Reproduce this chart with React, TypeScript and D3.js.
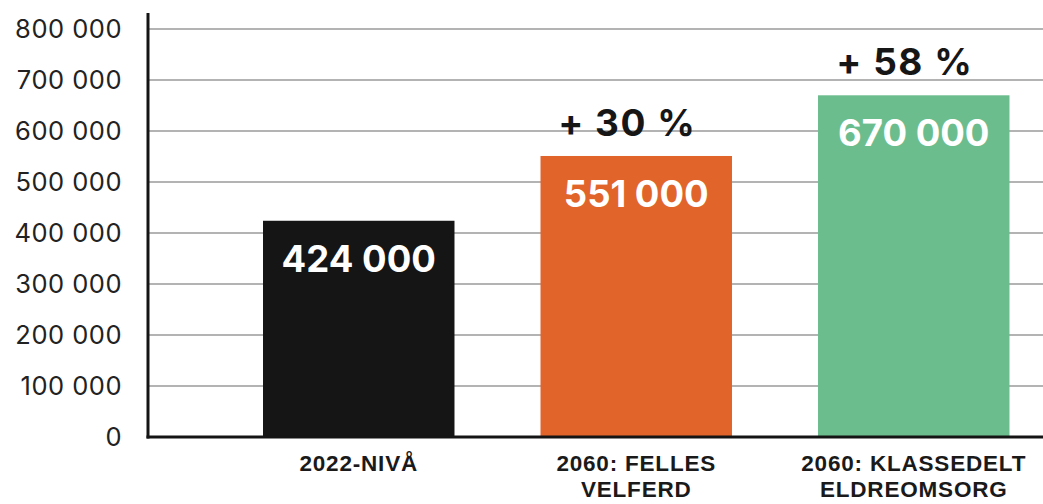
import { useEffect, useRef } from 'react';
import * as d3 from 'd3';

// chart values
const categories = ['2022-NIVÅ', '2060: FELLES|VELFERD', '2060: KLASSEDELT|ELDREOMSORG'];
const values = [424000, 551000, 670000];
const valueLabels = ['424 000', '551 000', '670 000'];
const changeLabels = ['', '+ 30 %', '+ 58 %'];
const barColors = ['#151515', '#e1642b', '#6cbd8e'];
const yTicks = [0, 100000, 200000, 300000, 400000, 500000, 600000, 700000, 800000];

export default function App() {
  const ref = useRef<SVGSVGElement | null>(null);
  const width = 1043;
  const height = 504;

  useEffect(() => {
    const svg = d3.select(ref.current);
    svg.selectAll('*').remove();

    const axisX = 148;
    const y = d3.scaleLinear().domain([0, 800000]).range([437, 29]);
    const x = d3.scaleBand<number>()
      .domain(d3.range(values.length))
      .range([220, 1052.5])
      .paddingInner(0.31)
      .paddingOuter(0.155);

    const tickFmt = (v: number) => d3.format(',')(v).replace(/,/g, ' ');

    // gridlines
    svg.append('g')
      .selectAll('line')
      .data(yTicks.filter(d => d > 0))
      .join('line')
      .attr('x1', axisX)
      .attr('x2', width)
      .attr('y1', d => y(d))
      .attr('y2', d => y(d))
      .attr('stroke', '#9a9a9a')
      .attr('stroke-width', 1.5);

    // tick labels
    svg.append('g')
      .selectAll('text')
      .data(yTicks)
      .join('text')
      .attr('x', 122)
      .attr('y', d => y(d))
      .attr('dy', '0.36em')
      .attr('text-anchor', 'end')
      .attr('font-family', 'Inter, "Liberation Sans", sans-serif')
      .attr('font-size', 25.5)
      .attr('letter-spacing', 0.5)
      .attr('fill', '#222')
      .text(d => tickFmt(d));

    // bars
    svg.append('g')
      .selectAll('rect')
      .data(values)
      .join('rect')
      .attr('x', (_, i) => x(i)!)
      .attr('width', x.bandwidth())
      .attr('y', d => y(d))
      .attr('height', d => y(0) - y(d))
      .attr('fill', (_, i) => barColors[i]);

    // value labels inside bars
    svg.append('g')
      .selectAll('text')
      .data(values)
      .join('text')
      .attr('x', (_, i) => x(i)! + x.bandwidth() / 2)
      .attr('y', d => y(d) + 51)
      .attr('text-anchor', 'middle')
      .attr('font-family', 'Inter, "Liberation Sans", sans-serif')
      .attr('font-weight', 700)
      .attr('font-size', 36.5)
      .attr('fill', '#fff')
      .text((_, i) => valueLabels[i]);

    // change labels above bars
    svg.append('g')
      .selectAll('text')
      .data(values)
      .join('text')
      .attr('x', (_, i) => x(i)! + x.bandwidth() / 2 - 9)
      .attr('y', d => y(d) - 20)
      .attr('text-anchor', 'middle')
      .attr('font-family', 'Inter, "Liberation Sans", sans-serif')
      .attr('font-weight', 700)
      .attr('font-size', 37)
      .attr('letter-spacing', 1.5)
      .attr('fill', '#161616')
      .text((_, i) => changeLabels[i]);

    // axes lines
    svg.append('line')
      .attr('x1', axisX).attr('x2', axisX)
      .attr('y1', 13).attr('y2', y(0) + 1.5)
      .attr('stroke', '#141414')
      .attr('stroke-width', 3);
    svg.append('line')
      .attr('x1', axisX - 1.5).attr('x2', width)
      .attr('y1', y(0)).attr('y2', y(0))
      .attr('stroke', '#141414')
      .attr('stroke-width', 3);

    // category labels
    const cat = svg.append('g')
      .selectAll('text')
      .data(categories)
      .join('text')
      .attr('x', (_, i) => x(i)! + x.bandwidth() / 2)
      .attr('y', 471)
      .attr('text-anchor', 'middle')
      .attr('font-family', '"Liberation Sans", Arial, sans-serif')
      .attr('font-weight', 700)
      .attr('font-size', 22.5)
      .attr('letter-spacing', 0.8)
      .attr('fill', '#1a1a1a');
    cat.each(function (d) {
      const lines = d.split('|');
      d3.select(this)
        .selectAll('tspan')
        .data(lines)
        .join('tspan')
        .attr('x', d3.select(this).attr('x'))
        .attr('dy', (_, j) => (j === 0 ? 0 : 26))
        .text(l => l);
    });
  }, []);

  return (
    <svg
      ref={ref}
      width={width}
      height={height}
      style={{ position: 'absolute', left: 0, top: 0, background: '#fff' }}
    />
  );
}
